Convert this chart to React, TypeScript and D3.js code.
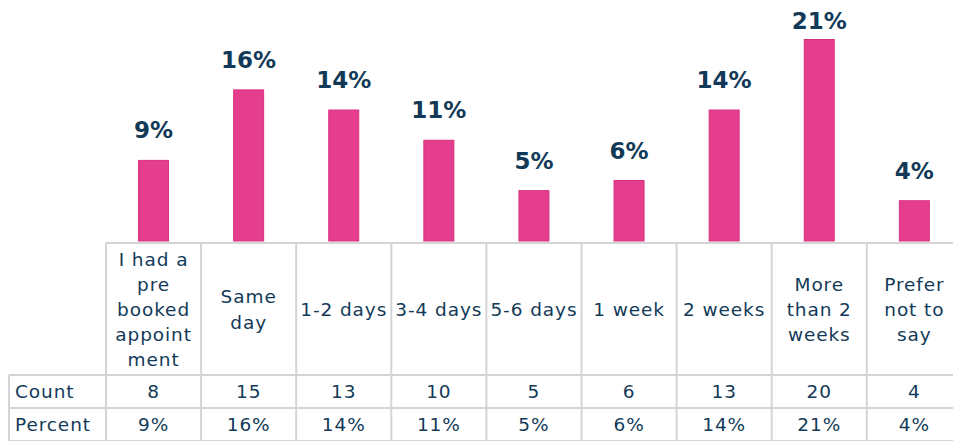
import * as d3 from "d3";

const categories = ["prebooked", "same", "d12", "d34", "d56", "w1", "w2", "more2", "prefer"];
const headerLines = [
  ["I had a", "pre", "booked", "appoint", "ment"],
  ["Same", "day"],
  ["1-2 days"],
  ["3-4 days"],
  ["5-6 days"],
  ["1 week"],
  ["2 weeks"],
  ["More", "than 2", "weeks"],
  ["Prefer", "not to", "say"],
];
const counts = [8, 15, 13, 10, 5, 6, 13, 20, 4];
const percents = ["9%", "16%", "14%", "11%", "5%", "6%", "14%", "21%", "4%"];

const W = 953;
const H = 441;
const tableLeft = 9;
const colLeft = 106;
const colWidth = 95.1;
const headerTop = 243;
const countTop = 375;
const percentTop = 408;
const tableBottom = 441;
const baseline = 241;
const barWidth = 30;

const ink = "#123a58";
const grid = "#d4d4d4";
const pink = "#e63e8f";
const font = "'DejaVu Sans', Verdana, sans-serif";

const App = () => {
  const x = d3
    .scaleBand<string>()
    .domain(categories)
    .range([colLeft, colLeft + colWidth * categories.length])
    .padding(0);
  const y = d3.scaleLinear().domain([0, 20]).range([baseline, 39.5]);
  const bw = x.bandwidth();
  const right = colLeft + colWidth * categories.length;
  const lineH = 25.2;
  const headerMid = (headerTop + countTop) / 2;

  return (
    <svg
      width={W}
      height={H}
      style={{ position: "absolute", left: 0, top: 0, background: "#fff" }}
      fontFamily={font}
    >
      {/* bars + labels */}
      {categories.map((c, i) => {
        const bx = (x(c) as number) + (bw - barWidth) / 2;
        const top = y(counts[i]);
        // labels sit ~22px above the bar, but never above the top edge
        const ly = Math.max(top - 22, 28.5);
        return (
          <g key={c}>
            <rect
              x={bx}
              y={top}
              width={barWidth}
              height={baseline - top}
              fill={pink}
              stroke="#d8307f"
              strokeWidth={1}
            />
            <text
              x={(x(c) as number) + bw / 2}
              y={ly}
              textAnchor="middle"
              fontSize={23}
              fontWeight="bold"
              fill={ink}
            >
              {percents[i]}
            </text>
          </g>
        );
      })}

      {/* table grid */}
      <g stroke={grid} strokeWidth={2} fill="none">
        <line x1={colLeft} x2={right} y1={headerTop} y2={headerTop} />
        <line x1={tableLeft} x2={right} y1={countTop} y2={countTop} />
        <line x1={tableLeft} x2={right} y1={percentTop} y2={percentTop} />
        <line x1={tableLeft} x2={right} y1={tableBottom} y2={tableBottom} />
        <line x1={tableLeft} x2={tableLeft} y1={countTop} y2={tableBottom} />
        {categories.map((c) => (
          <line key={c} x1={x(c)} x2={x(c)} y1={headerTop} y2={tableBottom} />
        ))}
        <line x1={right} x2={right} y1={headerTop} y2={tableBottom} />
      </g>

      {/* header text */}
      <g fontSize={18.5} fill={ink} textAnchor="middle" letterSpacing={0.9}>
        {categories.map((c, i) => {
          const lines = headerLines[i];
          const start = headerMid - ((lines.length - 1) * lineH) / 2;
          return (
            <text key={c} x={(x(c) as number) + bw / 2} y={start} dominantBaseline="central">
              {lines.map((l, j) => (
                <tspan key={j} x={(x(c) as number) + bw / 2} y={start + j * lineH}>
                  {l}
                </tspan>
              ))}
            </text>
          );
        })}
      </g>

      {/* count + percent rows */}
      <g fontSize={18.5} fill={ink} letterSpacing={0.9} dominantBaseline="central">
        <text x={15} y={(countTop + percentTop) / 2}>Count</text>
        <text x={15} y={(percentTop + tableBottom) / 2}>Percent</text>
        {categories.map((c, i) => (
          <g key={c} textAnchor="middle">
            <text x={(x(c) as number) + bw / 2} y={(countTop + percentTop) / 2}>
              {counts[i]}
            </text>
            <text x={(x(c) as number) + bw / 2} y={(percentTop + tableBottom) / 2}>
              {percents[i]}
            </text>
          </g>
        ))}
      </g>
    </svg>
  );
};

export default App;
